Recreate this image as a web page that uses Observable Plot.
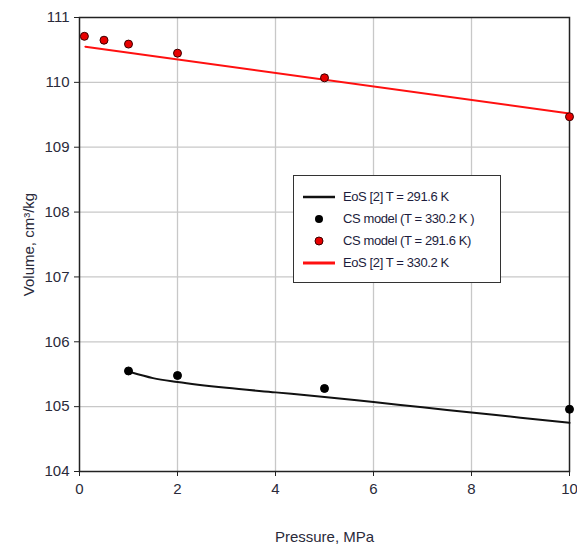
<!DOCTYPE html>
<html>
<head>
<meta charset="utf-8">
<script src="https://cdn.jsdelivr.net/npm/d3@7"></script>
<script src="https://cdn.jsdelivr.net/npm/@observablehq/plot@0.6"></script>
<style>
  html, body { margin: 0; padding: 0; background: #fff; }
  #wrap { position: relative; width: 577px; height: 545px; }
  .legend {
    position: absolute; left: 293px; top: 175px; width: 208px; height: 108px;
    border: 1.5px solid #333; background: #fff; box-sizing: border-box;
    font-family: "Liberation Sans", Arial, sans-serif;
    font-size: 13px; color: #1c1c3c; letter-spacing: -0.4px;
  }
  .legend .row { position: absolute; left: 0; height: 16px; line-height: 16px; white-space: nowrap; }
  .legend .sw { position: absolute; left: 9px; width: 32px; top: 0; height: 16px; }
  .legend .txt { position: absolute; left: 49px; top: 0; }
</style>
</head>
<body>
<div id="wrap"></div>
<script>
// Data
const csRedP = [0.1, 0.5, 1, 2, 5, 10];
const csRedV = [110.71, 110.65, 110.59, 110.45, 110.07, 109.47];
const csBlackP = [1, 2, 5, 10];
const csBlackV = [105.55, 105.48, 105.28, 104.96];
const eosRedP = [0.12, 10];
const eosRedV = [110.55, 109.52];
const eosBlackP = [1.05, 1.5, 2, 3, 4, 5, 6, 7, 8, 9, 10];
const eosBlackV = [105.53, 105.44, 105.38, 105.29, 105.22, 105.15, 105.07, 104.99, 104.91, 104.83, 104.75];
const xTicks = [0, 2, 4, 6, 8, 10];
const yTicks = [104, 105, 106, 107, 108, 109, 110, 111];
const legendLabels = ["EoS [2] T = 291.6 K", "CS model (T = 330.2 K )", "CS model  (T = 291.6 K)", "EoS [2] T = 330.2 K"];

const zip = (xs, ys) => xs.map((x, i) => ({p: x, v: ys[i]}));
const redPts = zip(csRedP, csRedV);
const blackPts = zip(csBlackP, csBlackV);
const redLine = zip(eosRedP, eosRedV);
const blackLine = zip(eosBlackP, eosBlackV);

const font = '"Liberation Sans", Arial, sans-serif';

const chart = Plot.plot({
  width: 577,
  height: 545,
  marginLeft: 79,
  marginRight: 8,
  marginTop: 17,
  marginBottom: 74,
  style: {fontFamily: font, fontSize: "14px", color: "#2a2a3a", background: "#fff"},
  x: {domain: [0, 10]},
  y: {domain: [104, 111]},
  marks: [
    Plot.gridX([2, 4, 6, 8], {stroke: "#c8c8c8", strokeOpacity: 1, strokeWidth: 1.3}),
    Plot.gridY([105, 106, 107, 108, 109, 110], {stroke: "#c8c8c8", strokeOpacity: 1, strokeWidth: 1.3}),
    Plot.frame({stroke: "#222", strokeWidth: 1.5}),
    Plot.axisX({ticks: xTicks, tickSize: 5, tickPadding: 7, stroke: "#222", tickFormat: "d", label: "Pressure, MPa",
      labelAnchor: "center", labelArrow: "none", labelOffset: 70, fontSize: 15}),
    Plot.axisY({ticks: yTicks, tickSize: 5, tickPadding: 5, stroke: "#222", tickFormat: "d", label: "Volume, cm³/kg",
      labelAnchor: "center", labelArrow: "none", labelOffset: 56, fontSize: 15}),
    Plot.line(redLine, {x: "p", y: "v", stroke: "#ff1010", strokeWidth: 2}),
    Plot.line(blackLine, {x: "p", y: "v", stroke: "#111", strokeWidth: 2, curve: "monotone-x"}),
    Plot.dot(redPts, {x: "p", y: "v", r: 4, fill: "#e80000", stroke: "#3a0000", strokeWidth: 1}),
    Plot.dot(blackPts, {x: "p", y: "v", r: 4, fill: "#000", stroke: "#000", strokeWidth: 1})
  ]
});
const wrap = document.getElementById("wrap");
wrap.appendChild(chart);

// Legend (HTML overlay)
const leg = document.createElement("div");
leg.className = "legend";
const swatches = [
  '<svg width="32" height="16"><line x1="0" x2="32" y1="8" y2="8" stroke="#111" stroke-width="2.5"/></svg>',
  '<svg width="32" height="16"><circle cx="16" cy="8" r="4" fill="#000"/></svg>',
  '<svg width="32" height="16"><circle cx="16" cy="8" r="4" fill="#e80000" stroke="#3a0000" stroke-width="1"/></svg>',
  '<svg width="32" height="16"><line x1="0" x2="32" y1="8" y2="8" stroke="#ff1010" stroke-width="3"/></svg>'
];
const rowTops = [13, 35, 57, 79];
legendLabels.forEach((t, i) => {
  const r = document.createElement("div");
  r.className = "row";
  r.style.top = rowTops[i] + "px";
  r.innerHTML = '<span class="sw">' + swatches[i] + '</span><span class="txt"></span>';
  r.querySelector(".txt").textContent = t;
  leg.appendChild(r);
});
wrap.appendChild(leg);
</script>
</body>
</html>
